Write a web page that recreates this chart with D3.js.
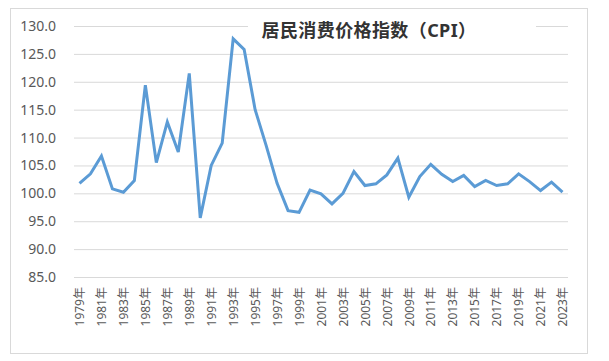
<!DOCTYPE html>
<html><head><meta charset="utf-8">
<script src="https://cdn.jsdelivr.net/npm/d3@7"></script>
<style>
html,body{margin:0;padding:0;background:#fff;}
svg{display:block;}
text{font-family:"Noto Sans","Noto Sans CJK SC",sans-serif;}
</style></head>
<body>
<svg id="c" width="609" height="361"></svg>
<script>
const years = d3.range(1979, 2024).map(String);
const cpi = [101.8,103.5,106.7,100.8,100.2,102.3,119.4,105.5,112.8,107.4,
             121.5,95.6,105.0,109.0,127.7,125.8,115.0,108.6,101.8,96.9,
             96.6,100.6,99.9,98.1,100.0,103.9,101.4,101.7,103.3,106.3,
             99.3,103.0,105.2,103.4,102.1,103.2,101.2,102.3,101.4,101.7,
             103.5,102.1,100.5,102.0,100.2];
const yTicks = [85,90,95,100,105,110,115,120,125,130];
const xTickYears = years.filter((y,i)=>i%2===0);
const title = "居民消费价格指数（CPI）";

const svg = d3.select("#c");
const L=74, R=568, T=26, B=277;

svg.append("rect").attr("x",10.5).attr("y",8.5).attr("width",577).attr("height",345)
  .attr("fill","#fff").attr("stroke","#d9d9d9");

const x = d3.scalePoint().domain(years).range([L,R]).padding(0.5);
const y = d3.scaleLinear().domain([85,130]).range([B,T]);

const gy = svg.append("g").attr("transform",`translate(${L},0)`)
  .call(d3.axisLeft(y).tickValues(yTicks).tickFormat(d3.format(".1f"))
        .tickSize(-(R-L)).tickPadding(18));
gy.select(".domain").remove();
gy.selectAll(".tick line").attr("stroke","#d9d9d9").attr("stroke-width",1);
gy.selectAll(".tick text").attr("fill","#595959").attr("font-size",14);

const gx = svg.append("g").attr("transform",`translate(0,${B})`)
  .call(d3.axisBottom(x).tickValues(xTickYears).tickFormat(d=>d+"年").tickSize(0).tickPadding(0));
gx.select(".domain").remove();
gx.selectAll(".tick text")
  .attr("transform","rotate(-90)")
  .attr("text-anchor","end")
  .attr("x",-10).attr("y",0).attr("dy","0.35em")
  .attr("fill","#595959").attr("font-size",12);

// title box
svg.append("rect").attr("x",248).attr("y",14).attr("width",288).attr("height",30).attr("fill","#fff");
svg.append("text").attr("x",369).attr("y",37).attr("text-anchor","middle")
  .attr("font-size",18).attr("font-weight","bold").attr("fill","#333")
  .attr("letter-spacing",0.4)
  .attr("font-family","\"Noto Sans CJK SC\",sans-serif")
  .text(title);

const line = d3.line().x((d,i)=>x(years[i])).y(d=>y(d));
svg.append("path").datum(cpi).attr("d",line)
  .attr("fill","none").attr("stroke","#5b9bd5").attr("stroke-width",3);
</script>
</body></html>
